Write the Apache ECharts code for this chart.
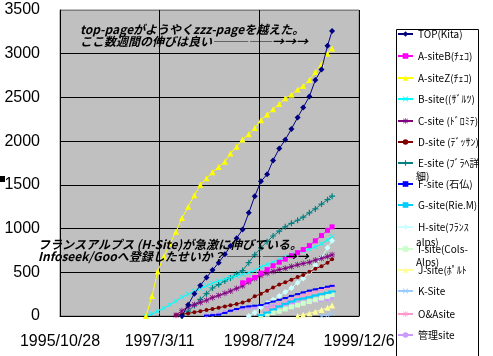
<!DOCTYPE html>
<html><head><meta charset="utf-8">
<script src="https://cdn.jsdelivr.net/npm/echarts@6/dist/echarts.min.js"></script>
<style>html,body{margin:0;padding:0;background:#fff}#c{width:493px;height:356px}</style>
</head><body><div id="c"></div>
<script>
// ---- data ----
const xTickLabels = ['1995/10/28', '1997/3/11', '1998/7/24', '1999/12/6'];
const dates = ['1997/1/1','1997/2/1','1997/3/1','1997/4/1','1997/5/1','1997/6/1','1997/7/1','1997/8/1','1997/9/1','1997/10/1','1997/11/1','1997/12/1',
  '1998/1/1','1998/2/1','1998/3/1','1998/4/1','1998/5/1','1998/6/1','1998/7/1','1998/8/1','1998/9/1','1998/10/1','1998/11/1','1998/12/1',
  '1999/1/1','1999/2/1','1999/3/1','1999/4/1','1999/5/1','1999/6/1','1999/7/1','1999/7/24'];
const N = null;
const topKita = [N,N,N,N,N,N,0,130,255,350,440,525,610,705,800,890,990,1180,1370,1540,1620,1780,1915,2015,2140,2270,2385,2510,2700,2820,3090,3260];
const siteAB  = [N,N,N,N,N,N,N,N,N,N,N,N,N,N,N,N,380,410,440,490,530,575,615,650,690,725,760,805,860,920,980,1020];
const siteAZ  = [0,230,510,680,825,965,1120,1250,1380,1500,1575,1645,1705,1765,1860,1935,2020,2080,2150,2240,2305,2365,2425,2490,2530,2590,2630,2700,2790,2880,3000,3060];
const siteB   = [0,25,55,90,130,170,215,250,285,315,345,375,400,420,440,460,475,495,520,560,590,615,645,675,700,725,745,765,790,825,870,910];
const siteC   = [N,N,N,N,N,10,60,105,130,155,180,210,235,260,285,315,345,390,430,465,490,510,530,545,565,585,600,615,640,660,680,700];
const siteD   = [N,N,N,N,N,10,20,30,42,55,68,80,95,110,122,137,155,178,225,255,290,325,360,385,415,445,470,505,540,570,610,650];
const siteE   = [N,N,N,N,N,N,0,55,120,190,255,320,360,400,435,480,520,610,700,780,850,915,970,1020,1060,1095,1130,1180,1225,1280,1330,1370];
const siteF   = [N,N,N,N,N,N,N,N,N,N,5,10,15,35,60,80,100,110,118,125,145,165,185,205,230,250,270,290,305,320,335,345];
const siteG   = [N,N,N,N,N,N,N,N,N,N,N,N,N,N,N,N,N,N,N,10,40,75,110,140,165,190,200,215,235,250,265,280];
const siteH   = [N,N,N,N,N,N,N,N,N,N,N,N,N,N,N,N,N,0,40,100,150,185,230,275,320,380,430,500,580,670,780,860];
const siteI   = [N,N,N,N,N,N,N,N,N,N,N,N,N,N,N,N,N,N,N,0,20,40,55,80,105,125,145,165,185,205,225,245];
const siteJ   = [N,N,N,N,N,N,N,N,N,N,N,N,N,N,N,N,N,N,N,N,N,N,N,N,N,0,15,30,50,70,95,120];
const siteK   = [N,N,N,N,N,N,N,N,N,N,N,N,N,N,N,N,N,N,N,N,N,N,N,N,N,N,N,N,N,0,10,30];
const siteOA  = [N,N,N,N,N,N,N,N,N,N,N,N,N,N,N,N,N,N,N,N,60,95,130,160,190,210,235,255,275,300,325,340];
const siteAdm = [N,N,N,N,N,N,N,N,N,N,5,15,30,45,60,72,82,90,97,105,112,118,125,133,143,150,157,165,172,180,190,205];

const seriesNames = ['TOP(Kita)','A-siteB(ﾁｪｺ)','A-siteZ(ﾁｪｺ)','B-site((ｻﾞﾙﾂ)','C-site (ﾄﾞﾛﾐﾃ)','D-site (ﾃﾞｯｻﾝ)','E-site (ﾌﾞﾗﾍ詳細)','F-site (石仏)','G-site(Rie.M)','H-site(ﾌﾗﾝｽalps)','I-site(Cols-Alps)','J-site(ﾎﾟﾙﾄｶﾞﾙ)','K-Site','O&Asite','管理site'];
const legendFirstLine = ['TOP(Kita)','A-siteB(ﾁｪｺ)','A-siteZ(ﾁｪｺ)','B-site((ｻﾞﾙﾂ)','C-site (ﾄﾞﾛﾐﾃ)','D-site (ﾃﾞｯｻﾝ)','E-site (ﾌﾞﾗﾍ詳','F-site (石仏)','G-site(Rie.M)','H-site(ﾌﾗﾝｽ','I-site(Cols-','J-site(ﾎﾟﾙﾄｶﾞﾙ)','K-Site','O&Asite','管理site'];
const seriesValues = [topKita, siteAB, siteAZ, siteB, siteC, siteD, siteE, siteF, siteG, siteH, siteI, siteJ, siteK, siteOA, siteAdm];

// ---- styles ----
const colors = ['#000080','#FF00FF','#FFFF00','#00FFFF','#800080','#800000','#008080','#0000FF','#00CCFF','#CCFFFF','#CCFFCC','#FFFF99','#99CCFF','#FF99CC','#CC99FF'];
const P_PLUS = 'path://M4,0H6V4H10V6H6V10H4V6H0V4H4Z';
const P_X = 'path://M1,0L5,4L9,0L10,1L6,5L10,9L9,10L5,6L1,10L0,9L4,5L0,1Z';
const P_STAR = 'path://M4.4,0H5.6V3.6L8.5,0.7L9.3,1.5L6.4,4.4H10V5.6H6.4L9.3,8.5L8.5,9.3L5.6,6.4V10H4.4V6.4L1.5,9.3L0.7,8.5L3.6,5.6H0V4.4H3.6L0.7,1.5L1.5,0.7L4.4,3.6Z';
const symbols = [['diamond',6],['rect',5],['triangle',6],[P_X,5],[P_STAR,6],['circle',4],[P_PLUS,6],['rect',[5,2]],['rect',[8,2]],['diamond',6],['rect',5],['triangle',6],[P_X,5],[P_STAR,6],['circle',4]];
const legendY = [36,58,80,101,123,144,165,186,207,229,251,272,293,316,337];

function dayOff(s) {
  const p = s.split('/').map(Number);
  return (Date.UTC(p[0], p[1]-1, p[2]) - Date.UTC(1995, 9, 28)) / 86400000;
}

const series = seriesNames.map((name, k) => ({
  name, type: 'line',
  data: dates.map((d, i) => [dayOff(d), seriesValues[k][i]]).filter(p => p[1] !== null),
  symbol: symbols[k][0], symbolSize: symbols[k][1], showSymbol: true,
  lineStyle: { color: colors[k], width: 1 },
  itemStyle: { color: colors[k] },
  z: 20 - k
}));

const legends = seriesNames.map((name, k) => ({
  data: [name], left: 397, top: legendY[k] - 7, orient: 'vertical',
  itemWidth: 15, itemHeight: 7, selectedMode: false, padding: 0, z: 6,
  formatter: () => legendFirstLine[k],
  textStyle: { fontFamily: 'Noto Sans CJK JP', fontSize: 10, color: '#000', width: 64, overflow: 'truncate', ellipsis: '' }
}));

const annFont = 'italic bold 12px "Noto Sans CJK JP"';
const chart = echarts.init(document.getElementById('c'));
chart.setOption({
  animation: false,
  backgroundColor: '#fff',
  grid: { left: 60, top: 10, width: 299, height: 306, show: true, backgroundColor: '#C0C0C0', borderColor: '#808080', borderWidth: 1 },
  xAxis: {
    type: 'value', min: 0, max: 1500, interval: 500,
    axisLine: { lineStyle: { color: '#000' } }, axisTick: { show: false },
    splitLine: { show: true, lineStyle: { color: '#000', width: 1 } },
    axisLabel: { color: '#000', fontFamily: 'Liberation Sans', fontSize: 16, margin: 18,
      formatter: v => xTickLabels[Math.round(v / 500)] }
  },
  yAxis: {
    type: 'value', min: 0, max: 3500, interval: 500,
    axisLine: { show: true, lineStyle: { color: '#000' } }, axisTick: { show: false },
    splitLine: { show: true, lineStyle: { color: ['#000','#000','#000','#000','#000','#000','#000','#808080'], width: 1 } },
    axisLabel: { color: '#000', fontFamily: 'Liberation Sans', fontSize: 16, margin: 20, formatter: v => String(v) }
  },
  legend: legends,
  series,
  graphic: [
    { type: 'rect', z: 5, shape: { x: 396.5, y: 29.5, width: 82, height: 330 }, style: { fill: '#fff', stroke: '#000', lineWidth: 1 } },
    { type: 'text', z: 7, left: 416, top: 171, style: { text: '細)', font: '10px "Noto Sans CJK JP"', fill: '#000' } },
    { type: 'text', z: 7, left: 416, top: 237, style: { text: 'alps)', font: '10px "Noto Sans CJK JP"', fill: '#000' } },
    { type: 'text', z: 7, left: 416, top: 257, style: { text: 'Alps)', font: '10px "Noto Sans CJK JP"', fill: '#000' } },
    { type: 'rect', z: 5, shape: { x: 0, y: 176, width: 5, height: 6 }, style: { fill: '#000' } },
    { type: 'text', z: 30, left: 80, top: 23, style: { text: 'top-pageがようやくzzz-pageを越えた。', font: annFont, fill: '#000' } },
    { type: 'text', z: 30, left: 80, top: 35, style: { text: 'ここ数週間の伸びは良い―――――→→→', font: annFont, fill: '#000' } },
    { type: 'text', z: 30, left: 38, top: 238, style: { text: 'フランスアルプス (H-Site)が急激に伸びている。', font: annFont, fill: '#000' } },
    { type: 'text', z: 30, left: 38, top: 250, style: { text: 'Infoseek/Gooへ登録したせいか？―――――→→', font: annFont, fill: '#000' } }
  ]
});
</script></body></html>
